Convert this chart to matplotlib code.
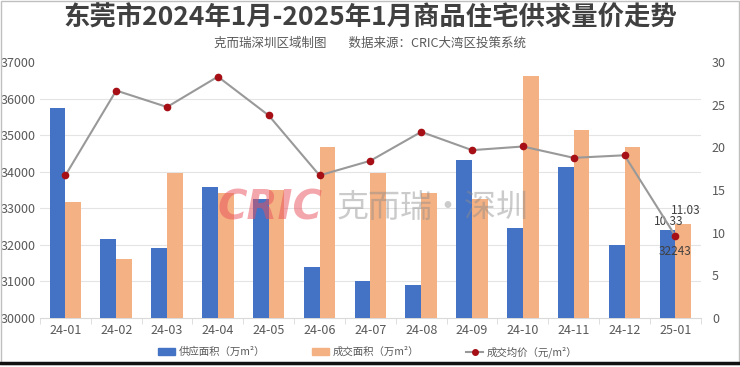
import numpy as np
import matplotlib
matplotlib.use("Agg")
import matplotlib.pyplot as plt
from matplotlib.patches import Rectangle
from matplotlib.lines import Line2D

plt.rcParams['font.family'] = ['Noto Sans CJK SC', 'DejaVu Sans']

# data
months = ['24-01', '24-02', '24-03', '24-04', '24-05', '24-06', '24-07',
          '24-08', '24-09', '24-10', '24-11', '24-12', '25-01']
supply = [24.6, 9.3, 8.2, 15.3, 14.0, 6.0, 4.3, 3.9, 18.5, 10.6, 17.7, 8.5, 10.33]
deal = [13.6, 6.9, 17.0, 14.6, 15.0, 20.0, 17.0, 14.7, 14.0, 28.4, 22.0, 20.0, 11.03]
price = [33900, 36220, 35770, 36600, 35540, 33900, 34300, 35090, 34590,
         34690, 34380, 34450, 32243]

title = '东莞市2024年1月-2025年1月商品住宅供求量价走势'
subtitle = '克而瑞深圳区域制图        数据来源：CRIC大湾区投策系统'
legend_labels = ['供应面积（万m²）', '成交面积（万m²）', '成交均价（元/m²）']

BLUE = '#4472c4'
ORANGE = '#f4b183'
LINE = '#999999'
DOT = '#a50f15'
TXT = '#595959'

fig = plt.figure(figsize=(7.4, 3.67), dpi=100)
ax = fig.add_axes([0.054, 0.1335, 0.893, 0.6975])   # bars, right-hand scale
ax2 = ax.twinx()                                     # price line, left-hand scale

x = np.arange(len(months))
w = 0.31
ax.bar(x - w / 2, supply, w, color=BLUE, zorder=3)
ax.bar(x + w / 2, deal, w, color=ORANGE, zorder=3)

ax.set_xlim(-0.5, len(months) - 0.5)
ax.set_ylim(0, 30)
ax.yaxis.tick_right()
ax.set_yticks(np.arange(0, 31, 5))
# grid lines follow the left (price) ticks
ax.set_yticks(np.linspace(0, 30, 8), minor=True)
ax.grid(which='minor', axis='y', color='#e4e4e4', lw=0.8, zorder=0)
ax.tick_params(axis='y', which='both', length=0, labelsize=9, labelcolor=TXT, pad=8)
ax.set_xticks(x)
ax.set_xticklabels(months)
ax.set_xticks(np.arange(-0.5, len(months)), minor=True)
ax.tick_params(axis='x', which='major', length=0, labelsize=9, labelcolor=TXT, pad=4)
ax.tick_params(axis='x', which='minor', length=4, color='#d9d9d9')
for s in ['top', 'left', 'right']:
    ax.spines[s].set_visible(False)
ax.spines['bottom'].set_color('#d9d9d9')

ax2.plot(x, price, color=LINE, lw=1.5, marker='o', ms=4.5,
         mfc=DOT, mec=DOT, zorder=5)
ax2.set_ylim(30000, 37000)
ax2.set_yticks(np.arange(30000, 37001, 1000))
ax2.yaxis.tick_left()
ax2.tick_params(axis='y', length=0, labelsize=9, labelcolor=TXT, pad=3)
for s in ax2.spines.values():
    s.set_visible(False)

# last-month data labels
ax.annotate(f'{supply[-1]:.2f}', (x[-1] - w / 2, supply[-1]), xytext=(1, 6),
            textcoords='offset points', ha='center', va='center',
            fontsize=8.5, color='#404040', zorder=6)
ax.annotate(f'{deal[-1]:.2f}', (x[-1] + w / 2, deal[-1]), xytext=(2, 10),
            textcoords='offset points', ha='center', va='center',
            fontsize=8.5, color='#404040', zorder=6)
ax2.annotate(f'{price[-1]}', (x[-1], price[-1]), xytext=(0, -11),
             textcoords='offset points', ha='center', va='center',
             fontsize=8.5, color='#404040', zorder=6)

# watermark
fig.text(0.365, 0.433, 'CRIC', fontsize=29, fontweight='bold', style='italic',
         color='#e8505b', alpha=0.5, ha='center', va='center', family='DejaVu Sans')
fig.text(0.585, 0.433, '克而瑞·深圳', fontsize=23, color='#8c8c8c', alpha=0.45,
         ha='center', va='center')

fig.text(0.5, 0.95, title, ha='center', va='center', fontsize=19,
         fontweight='bold', color='#404040')
fig.text(0.5, 0.882, subtitle, ha='center', va='center', fontsize=9, color=TXT)

handles = [Rectangle((0, 0), 1, 1, color=BLUE),
           Rectangle((0, 0), 1, 1, color=ORANGE),
           Line2D([], [], color=LINE, lw=1.5, marker='o', ms=4, mfc=DOT, mec=DOT)]
fig.legend(handles, legend_labels, loc='center', bbox_to_anchor=(0.497, 0.041),
           ncol=3, frameon=False, fontsize=7.5, labelcolor=TXT,
           handlelength=1.6, handleheight=0.6, columnspacing=4.5, handletextpad=0.4)

# picture frame
fig.add_artist(Rectangle((0.002, 0.008), 0.996, 0.99, transform=fig.transFigure,
                         fill=False, ec='#bfbfbf', lw=1))
fig.add_artist(Line2D([0, 1], [0.01, 0.01], transform=fig.transFigure,
                      color='#111111', lw=2.5))

fig.savefig('out.png', dpi=100)
